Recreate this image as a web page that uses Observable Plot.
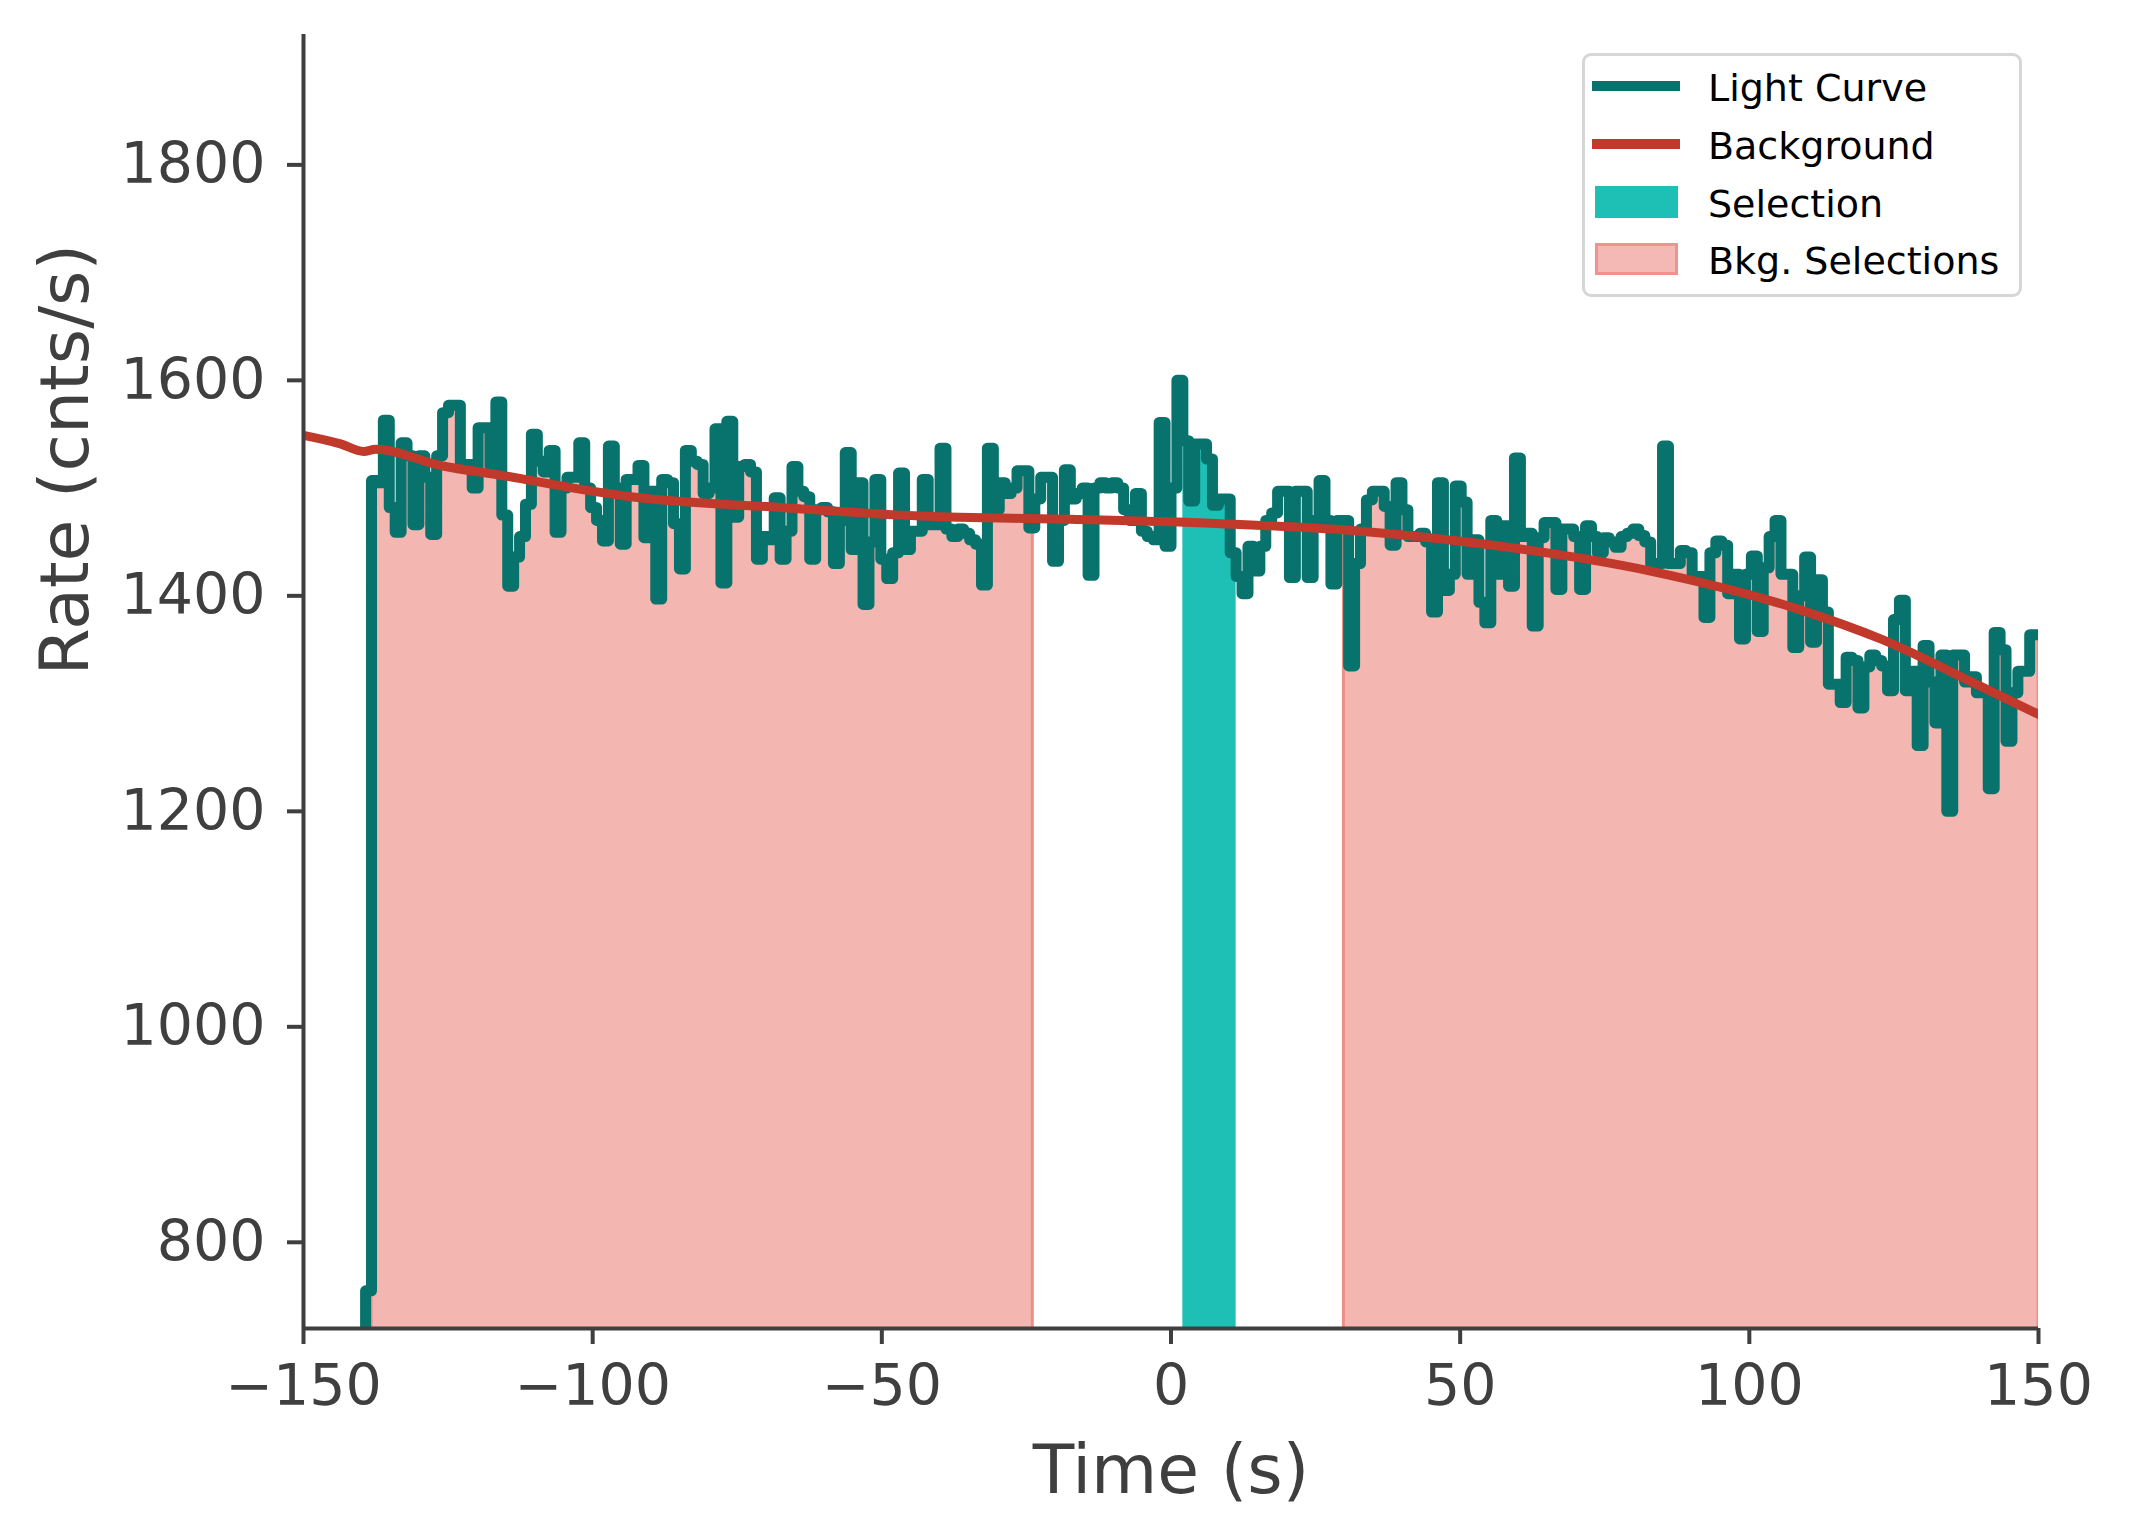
<!DOCTYPE html>
<html>
<head>
<meta charset="utf-8">
<script src="https://cdn.jsdelivr.net/npm/d3@7"></script>
<script src="https://cdn.jsdelivr.net/npm/@observablehq/plot@0.6"></script>
<style>
  body { margin: 0; background: #fff; }
  #wrap { position: relative; width: 2129px; height: 1540px; font-family: "DejaVu Sans", sans-serif; }
  #legend { position: absolute; left: 1582px; top: 53px; width: 440px; height: 244px; box-sizing: border-box;
            border: 3px solid #d6d6d6; border-radius: 9px; background: rgba(255,255,255,0.85); }
  .lab { position: absolute; left: 123px; height: 50px; line-height: 50px; font-size: 38px; color: #000; white-space: nowrap; }
  .hline { position: absolute; left: 7px; width: 88px; height: 10px; }
  .patch { position: absolute; left: 10px; width: 83px; height: 32px; box-sizing: border-box; }
</style>
</head>
<body>
<div id="wrap"></div>
<script>
// ---------------- data ----------------
const binWidth = 1.024;          // s
const lcStart = -140.288;        // start of first bin (s)
const lcRates = [
  0, 755,
  1507, 1505, 1563, 1482, 1459, 1542, 1530, 1466, 1530, 1510, 1457, 1530, 1570, 1577, 1577, 1522, 1522, 1500, 1556, 1556,
  1520, 1580, 1475, 1409, 1436, 1455, 1485, 1550, 1525, 1515, 1535, 1459, 1500, 1510, 1510, 1542, 1500, 1482, 1470, 1451,
  1539, 1500, 1448, 1508, 1508,
  1521, 1454, 1497, 1397, 1508, 1505, 1467, 1425, 1535, 1525, 1522, 1495, 1500, 1555, 1412, 1562, 1473, 1520, 1522, 1515,
  1434, 1455, 1452, 1491, 1434, 1460, 1520, 1497, 1492, 1434, 1480, 1482, 1478, 1430, 1470, 1533, 1443, 1505, 1392, 1450,
  1508, 1434, 1416, 1440, 1514, 1443, 1460, 1460, 1508,
  1466, 1466, 1537, 1462, 1455, 1462, 1458, 1452, 1448, 1410, 1537, 1480, 1505, 1495, 1500, 1516, 1516, 1463, 1490, 1510,
  1510, 1432, 1470, 1517, 1490, 1495, 1500, 1419, 1500, 1505, 1500, 1505, 1500, 1480, 1470, 1495, 1460, 1455, 1452, 1561,
  1446, 1500, 1600, 1544, 1488, 1541, 1541, 1527, 1484,
  1490, 1490, 1440, 1418, 1402, 1446, 1423, 1446, 1470, 1477, 1497, 1497, 1417, 1497, 1497, 1417, 1470, 1507, 1470, 1411,
  1470, 1470, 1335, 1430, 1462, 1489, 1497, 1497, 1483, 1447, 1505, 1480, 1455, 1455, 1458, 1450, 1385, 1505, 1405, 1420,
  1502, 1487, 1420, 1452, 1394, 1375, 1470, 1420, 1465,
  1409, 1528, 1455, 1458, 1372, 1454, 1468, 1468, 1406, 1462, 1462, 1455, 1406, 1465, 1455, 1440, 1454, 1450, 1445, 1455,
  1458, 1462, 1456, 1450, 1429, 1430, 1539, 1430, 1430, 1442, 1440, 1417, 1418, 1380, 1440, 1451, 1447, 1402, 1420, 1360,
  1420, 1437, 1367, 1426, 1455, 1470, 1420, 1420, 1352,
  1400, 1436, 1357, 1415, 1385, 1318, 1318, 1301, 1343, 1340, 1296, 1334, 1345, 1340, 1335, 1312, 1378, 1396, 1312, 1330,
  1261, 1354, 1320, 1282, 1345, 1200, 1345, 1345, 1320, 1325, 1310, 1310, 1221, 1366, 1350, 1265, 1310, 1330, 1330, 1364,
  1364
];
const bkgTimes = [-150, -143.6, -139.6, -137.5, -126.3, -114.8, -103.3, -93.4, -67.5, -43.3, -17.4, 8.6, 32.8, 57, 82.9, 108.8, 122.7, 140, 150];
const bkgRates = [1549, 1541, 1534, 1536, 1521, 1511, 1500, 1492, 1482, 1474, 1471, 1467, 1460, 1446, 1423, 1387, 1360, 1316, 1290];
const bkgIntervals = [[-138.24, -23.9], [29.9, 150]];
const selIntervals = [[2.048, 11.264]];
const xTicks = [-150, -100, -50, 0, 50, 100, 150];
const yTicks = [800, 1000, 1200, 1400, 1600, 1800];
const xDomain = [-150, 150];
const yDomain = [720, 1921];
const legendLabels = ["Light Curve", "Background", "Selection", "Bkg. Selections"];
const C = { lc: "#07736c", bkg: "#c0392b", sel: "#1ebfb5", bkgFill: "#f4b6b0", bkgEdge: "#ee8f86", axis: "#3f3f3f" };

// ---------------- derived tables ----------------
const lc = lcRates.map((r, i) => ({ t: lcStart + i * binWidth, r }));
lc.push({ t: lcStart + lcRates.length * binWidth, r: lcRates[lcRates.length - 1] });
function rateAt(t) {
  const i = Math.min(lcRates.length - 1, Math.max(0, Math.floor((t - lcStart) / binWidth + 1e-9)));
  return lcRates[i];
}
function segment([a, b], seg) {
  const pts = [{ t: a, r: rateAt(a), seg }];
  for (const d of lc) if (d.t > a && d.t < b) pts.push({ ...d, seg });
  pts.push({ t: b, r: rateAt(b - 1e-6), seg });
  return pts;
}
const bkgFillData = bkgIntervals.flatMap((iv, k) => segment(iv, k));
const selFillData = selIntervals.flatMap((iv, k) => segment(iv, k));
const bkgCurve = bkgTimes.map((t, i) => ({ t, r: bkgRates[i] }));
const fmtX = d => (d < 0 ? "\u2212" + Math.abs(d) : String(d));

// ---------------- chart ----------------
const chart = Plot.plot({
  width: 2129,
  height: 1540,
  marginLeft: 303,
  marginRight: 91,
  marginTop: 34,
  marginBottom: 212,
  x: { domain: xDomain, label: null },
  y: { domain: yDomain, label: null },
  style: { fontFamily: "DejaVu Sans", fontSize: "57px", color: C.axis, background: "white", overflow: "visible" },
  marks: [
    Plot.areaY(bkgFillData, { x: "t", y1: 0, y2: "r", z: "seg", curve: "step-after", fill: C.bkgFill, stroke: C.bkgEdge, strokeWidth: 3, clip: true }),
    Plot.areaY(selFillData, { x: "t", y1: 0, y2: "r", z: "seg", curve: "step-after", fill: C.sel, clip: true }),
    Plot.line(lc, { x: "t", y: "r", curve: "step-after", stroke: C.lc, strokeWidth: 11, strokeLinejoin: "round", strokeLinecap: "round", clip: true }),
    Plot.line(bkgCurve, { x: "t", y: "r", curve: "monotone-x", stroke: C.bkg, strokeWidth: 9, strokeLinejoin: "round", clip: true }),
    Plot.ruleX([xDomain[0]], { y1: yDomain[0], y2: yDomain[1], stroke: C.axis, strokeWidth: 4 }),
    Plot.ruleY([yDomain[0]], { x1: xDomain[0], x2: xDomain[1], stroke: C.axis, strokeWidth: 4 }),
    Plot.axisX({ ticks: xTicks, tickSize: 16, tickPadding: 20, strokeWidth: 4, tickFormat: fmtX, label: null, fontSize: 57, color: C.axis }),
    Plot.axisY({ ticks: yTicks, tickSize: 16, tickPadding: 22, strokeWidth: 4, tickFormat: d => String(d), label: null, fontSize: 57, color: C.axis }),
    Plot.text(["Time (s)"], { text: d => d, frameAnchor: "bottom", dy: 164, lineAnchor: "bottom", fontSize: 68, fill: C.axis }),
    Plot.text(["Rate (cnts/s)"], { text: d => d, frameAnchor: "left", dx: -216, dy: -6, rotate: -90, lineAnchor: "bottom", fontSize: 68, fill: C.axis })
  ]
});
const wrap = document.getElementById("wrap");
wrap.appendChild(chart);

// ---------------- legend ----------------
const legend = document.createElement("div");
legend.id = "legend";
const rowCenters = [30, 88, 146, 203]; // inside border box
const handles = [
  el => { el.className = "hline"; el.style.background = C.lc; el.style.top = (rowCenters[0] - 5) + "px"; },
  el => { el.className = "hline"; el.style.background = C.bkg; el.style.top = (rowCenters[1] - 5) + "px"; },
  el => { el.className = "patch"; el.style.background = C.sel; el.style.top = (rowCenters[2] - 16) + "px"; },
  el => { el.className = "patch"; el.style.background = C.bkgFill; el.style.border = "3px solid " + C.bkgEdge; el.style.opacity = "0.95"; el.style.top = (rowCenters[3] - 16) + "px"; }
];
legendLabels.forEach((label, i) => {
  const h = document.createElement("div");
  handles[i](h);
  legend.appendChild(h);
  const t = document.createElement("div");
  t.className = "lab";
  t.style.top = (rowCenters[i] - 23) + "px";
  t.textContent = label;
  legend.appendChild(t);
});
wrap.appendChild(legend);
</script>
</body>
</html>
